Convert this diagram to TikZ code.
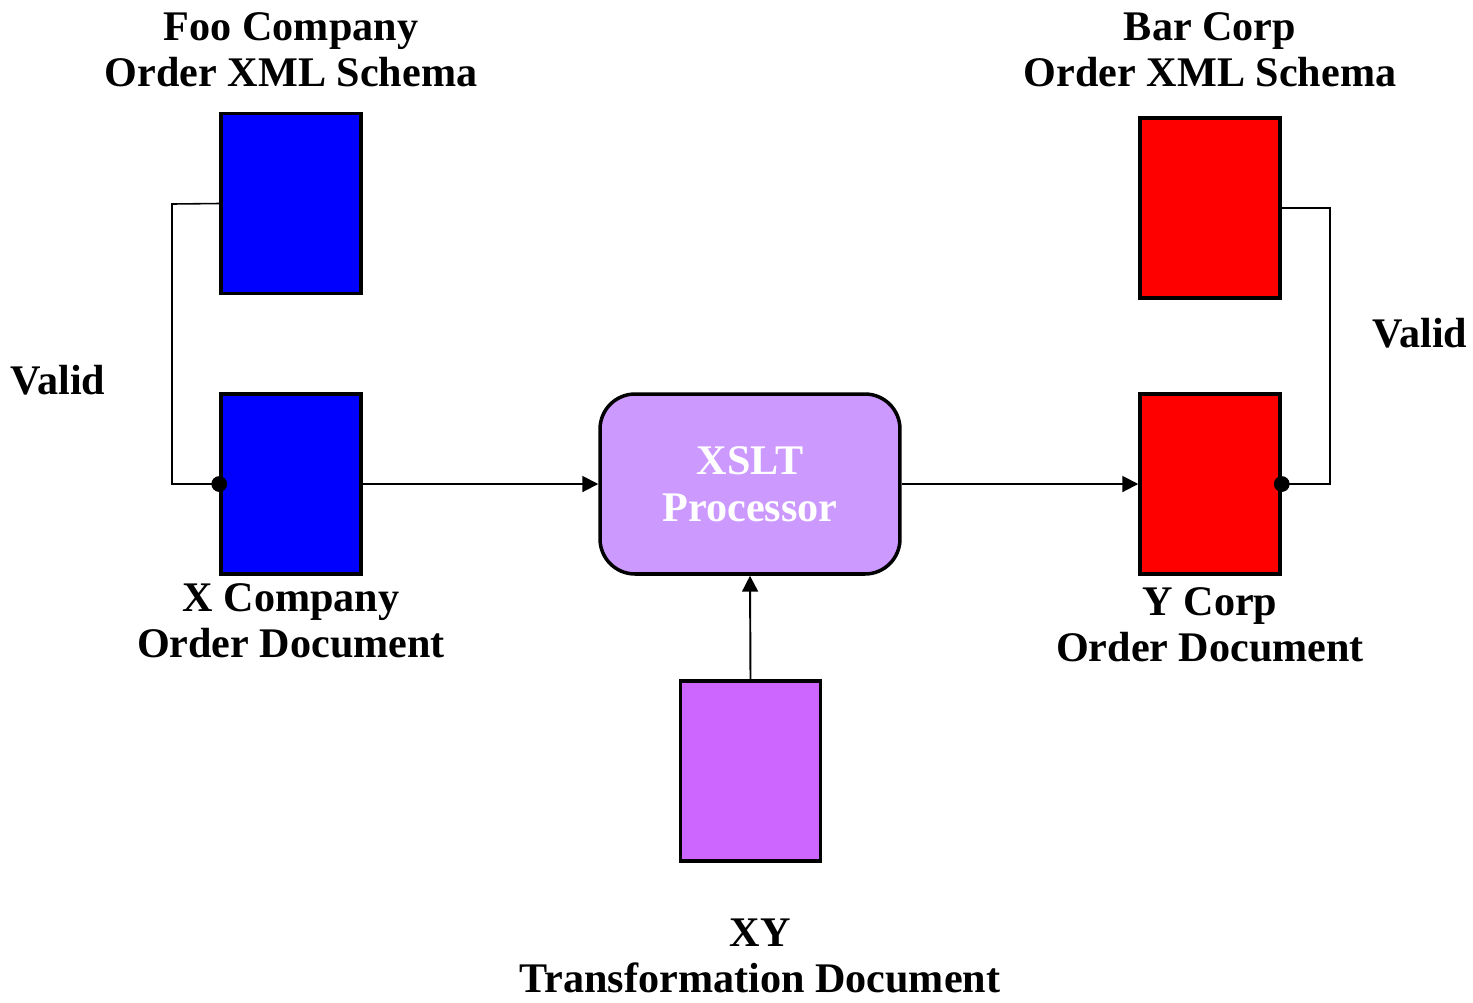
\documentclass[tikz,border=0pt]{standalone}
\usepackage{fontspec}
\setmainfont{Liberation Serif}
\usetikzlibrary{arrows.meta}
\definecolor{procfill}{HTML}{CC99FF}
\definecolor{xyfill}{HTML}{CC66FF}
\begin{document}
\begin{tikzpicture}[x=0.02cm,y=-0.02cm,
  doc/.style={draw=black,line width=2pt,minimum width=2.8cm,minimum height=3.6cm,inner sep=0pt},
  lbl/.style={align=center,font=\bfseries\fontsize{24}{26}\selectfont,inner sep=0pt},
  conn/.style={line width=1.1pt,-{Triangle[length=9pt,width=9pt]}},
  vline/.style={line width=0.9pt},
  dot/.style={circle,fill=black,inner sep=0pt,minimum size=9pt}]
\useasboundingbox (0,0) rectangle (1473,1002);
\node[doc,fill=blue] (fooS) at (291,203.5) {};
\node[doc,fill=blue] (xDoc) at (291,484) {};
\node[doc,fill=red] (barS) at (1210,208) {};
\node[doc,fill=red] (yDoc) at (1210,484) {};
\node[doc,fill=xyfill] (xyDoc) at (750.5,771) {};
\node[draw=black,line width=2pt,fill=procfill,rounded corners=0.7cm,minimum width=6cm,minimum height=3.6cm,inner sep=0pt,
  align=center,text=white,font=\bfseries\fontsize{24}{27}\selectfont] (proc) at (750,484) {XSLT\\Processor};
\node[lbl] (fooL) at (291,50) {Foo Company\\Order XML Schema};
\node[lbl] (barL) at (1210,50) {Bar Corp\\Order XML Schema};
\node[lbl] (xL) at (291,621) {X Company\\Order Document};
\node[lbl] (yL) at (1210,625) {Y Corp\\Order Document};
\node[lbl] (xyL) at (760,956) {XY\\Transformation Document};
\node[lbl] (v1) at (58,380) {Valid};
\node[lbl] (v2) at (1420,333) {Valid};
\coordinate (a1) at (172,204);
\coordinate (a2) at (172,484);
\coordinate (b1) at (1330,208);
\coordinate (b2) at (1330,484);
\node[dot] (d1) at (xDoc.west) {};
\node[dot] (d2) at (yDoc.east) {};
\draw[vline] (fooS.west) -- (a1) -- (a2) -- (d1.center);
\draw[vline] (barS.east) -- (b1) -- (b2) -- (d2.center);
\draw[conn] (xDoc.east) -- (proc.west);
\draw[conn] (proc.east) -- (yDoc.west);
\draw[conn] (xyDoc.north) -- (proc.south);
\end{tikzpicture}
\end{document}
